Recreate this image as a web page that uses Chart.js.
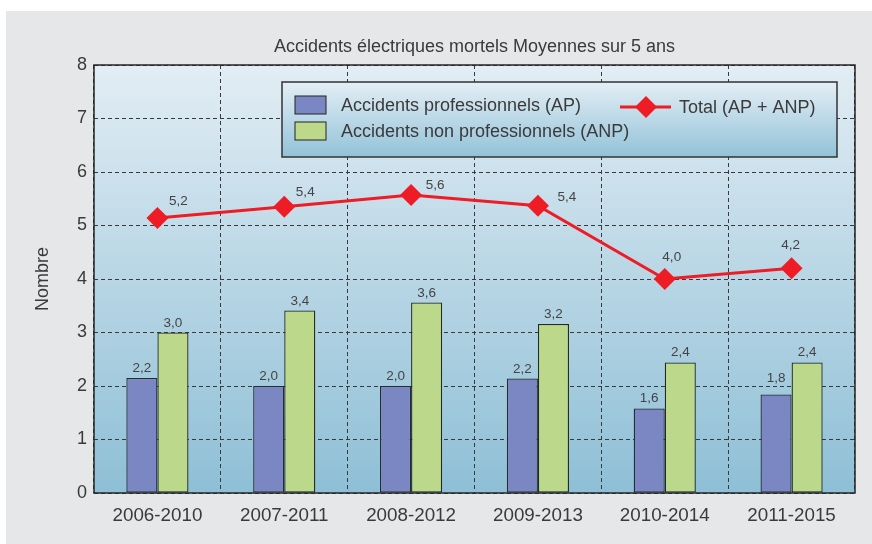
<!DOCTYPE html>
<html>
<head>
<meta charset="utf-8">
<script src="https://cdn.jsdelivr.net/npm/chart.js@4/dist/chart.umd.min.js"></script>
<style>
  html, body { margin: 0; padding: 0; background: #ffffff; }
  #wrap { width: 872px; height: 544px; }
</style>
</head>
<body>
<div id="wrap"><canvas id="c" width="872" height="544"></canvas></div>
<script>
// ---- Data ----
const categories = ['2006-2010', '2007-2011', '2008-2012', '2009-2013', '2010-2014', '2011-2015'];
const apValues = [2.15, 2.0, 2.0, 2.14, 1.58, 1.84];
const anpValues = [3.0, 3.41, 3.56, 3.16, 2.44, 2.44];
const totalValues = [5.14, 5.35, 5.57, 5.37, 4.0, 4.2];
const apLabels = ['2,2', '2,0', '2,0', '2,2', '1,6', '1,8'];
const anpLabels = ['3,0', '3,4', '3,6', '3,2', '2,4', '2,4'];
const totalLabels = ['5,2', '5,4', '5,6', '5,4', '4,0', '4,2'];
const yTicks = [0, 1, 2, 3, 4, 5, 6, 7, 8];

const titleText = 'Accidents électriques mortels Moyennes sur 5 ans';
const yTitle = 'Nombre';

// ---- Styles ----
const FONT = '"Liberation Sans", Arial, Helvetica, sans-serif';
const TEXT = '#3a3a3a';
const AP_COLOR = '#7b87c2';
const ANP_COLOR = '#bcd98b';
const RED = '#ee1c25';
const totalLabelOffsets = [[21, -17], [21, -14], [24, -10], [29, -8], [7, -22], [-1, -23]];
const apLabelLift = [0, 0, 0, 0, 0, 7];
const anpLabelLift = [0, 0, 0, 0, 0, 0];

const decorPlugin = {
  id: 'decor',
  beforeDraw(chart) {
    const ctx = chart.ctx;
    const a = chart.chartArea;
    ctx.save();
    ctx.fillStyle = '#ffffff';
    ctx.fillRect(0, 0, chart.width, chart.height);
    ctx.fillStyle = '#e6e7e9';
    ctx.fillRect(6, 11, chart.width - 6, chart.height - 11);
    const g = ctx.createLinearGradient(0, a.top, 0, a.bottom);
    g.addColorStop(0, '#e2edf4');
    g.addColorStop(1, '#8ebfd6');
    ctx.fillStyle = g;
    ctx.fillRect(a.left, a.top, a.right - a.left, a.bottom - a.top);
    // title
    ctx.fillStyle = TEXT;
    ctx.font = '18px ' + FONT;
    ctx.textAlign = 'center';
    ctx.textBaseline = 'middle';
    ctx.fillText(titleText, (a.left + a.right) / 2, 47);
    ctx.restore();
  },
  afterDatasetsDraw(chart) {
    const ctx = chart.ctx;
    const a = chart.chartArea;
    ctx.save();
    // plot border
    ctx.strokeStyle = '#262626';
    ctx.lineWidth = 1.5;
    ctx.strokeRect(a.left, a.top, a.right - a.left, a.bottom - a.top);
    // value labels
    ctx.fillStyle = '#444';
    ctx.font = '13.5px ' + FONT;
    ctx.textAlign = 'center';
    chart.data.datasets.forEach((ds, di) => {
      const meta = chart.getDatasetMeta(di);
      meta.data.forEach((el, i) => {
        if (ds.type === 'line') {
          const off = totalLabelOffsets[i];
          ctx.textBaseline = 'middle';
          ctx.fillText(ds.valueLabels[i], el.x + off[0], el.y + off[1]);
        } else {
          ctx.textBaseline = 'alphabetic';
          ctx.fillText(ds.valueLabels[i], el.x, el.y - 6 - (ds.labelLift ? ds.labelLift[i] : 0));
        }
      });
    });
    ctx.restore();
  },
  afterDraw(chart) {
    const ctx = chart.ctx;
    ctx.save();
    // legend box
    const lx = 282, ly = 82, lw = 555, lh = 75;
    const g = ctx.createLinearGradient(0, ly, 0, ly + lh);
    g.addColorStop(0, '#e4eef5');
    g.addColorStop(1, '#92c2d8');
    ctx.fillStyle = g;
    ctx.fillRect(lx, ly, lw, lh);
    ctx.strokeStyle = '#333';
    ctx.lineWidth = 1.5;
    ctx.strokeRect(lx, ly, lw, lh);
    const ds = chart.data.datasets;
    const bars = ds.filter(d => d.type !== 'line');
    const line = ds.find(d => d.type === 'line');
    ctx.font = '18px ' + FONT;
    ctx.textBaseline = 'middle';
    ctx.textAlign = 'left';
    bars.forEach((d, i) => {
      const y = 105 + i * 26;
      ctx.fillStyle = d.backgroundColor;
      ctx.fillRect(295, y - 9, 31, 18);
      ctx.strokeStyle = '#222';
      ctx.lineWidth = 1;
      ctx.strokeRect(295, y - 9, 31, 18);
      ctx.fillStyle = TEXT;
      ctx.fillText(d.label, 341, y + 1);
    });
    // line legend
    const y = 107;
    ctx.strokeStyle = RED;
    ctx.lineWidth = 3;
    ctx.beginPath();
    ctx.moveTo(620, y);
    ctx.lineTo(671, y);
    ctx.stroke();
    ctx.fillStyle = RED;
    ctx.beginPath();
    ctx.moveTo(646, y - 11);
    ctx.lineTo(657, y);
    ctx.lineTo(646, y + 11);
    ctx.lineTo(635, y);
    ctx.closePath();
    ctx.fill();
    ctx.fillStyle = TEXT;
    ctx.fillText(line.label, 679, y + 1);
    ctx.restore();
  }
};

new Chart(document.getElementById('c'), {
  type: 'bar',
  data: {
    labels: categories,
    datasets: [
      {
        type: 'line',
        label: 'Total (AP + ANP)',
        data: totalValues,
        valueLabels: totalLabels,
        borderColor: RED,
        backgroundColor: RED,
        borderWidth: 3,
        pointStyle: 'rectRot',
        pointRadius: 11,
        pointBorderWidth: 0,
        pointBackgroundColor: RED,
        tension: 0,
        order: 0
      },
      {
        type: 'bar',
        label: 'Accidents professionnels (AP)',
        data: apValues,
        valueLabels: apLabels,
        labelLift: apLabelLift,
        backgroundColor: AP_COLOR,
        borderColor: '#262a33',
        borderWidth: 1.3,
        borderSkipped: false,
        categoryPercentage: 0.49,
        barPercentage: 1.0,
        order: 1
      },
      {
        type: 'bar',
        label: 'Accidents non professionnels (ANP)',
        data: anpValues,
        valueLabels: anpLabels,
        labelLift: anpLabelLift,
        backgroundColor: ANP_COLOR,
        borderColor: '#262a1e',
        borderWidth: 1.3,
        borderSkipped: false,
        categoryPercentage: 0.49,
        barPercentage: 1.0,
        order: 2
      }
    ]
  },
  options: {
    responsive: false,
    animation: false,
    devicePixelRatio: 1,
    layout: { padding: { left: 0, top: 65, right: 17, bottom: 0 } },
    plugins: {
      legend: { display: false },
      title: { display: false },
      tooltip: { enabled: false }
    },
    scales: {
      x: {
        offset: true,
        grid: { display: true, offset: true, color: '#3a3a3a', lineWidth: 1, drawTicks: false },
        border: { display: false, dash: [4, 3] },
        ticks: { color: TEXT, font: { family: FONT, size: 18.8 }, padding: 12, maxRotation: 0 },
        afterFit(s) { s.height = 51; }
      },
      y: {
        min: 0,
        max: 8,
        afterBuildTicks(s) { s.ticks = yTicks.map(v => ({ value: v })); },
        grid: { color: '#3a3a3a', lineWidth: 1, drawTicks: false },
        border: { display: false, dash: [4, 3] },
        ticks: { color: TEXT, font: { family: FONT, size: 18 }, padding: 7 },
        title: { display: true, text: yTitle, color: TEXT, font: { family: FONT, size: 18 }, padding: { top: 32, bottom: 0 } },
        afterFit(s) { s.width = 94; }
      }
    }
  },
  plugins: [decorPlugin]
});
</script>
</body>
</html>
